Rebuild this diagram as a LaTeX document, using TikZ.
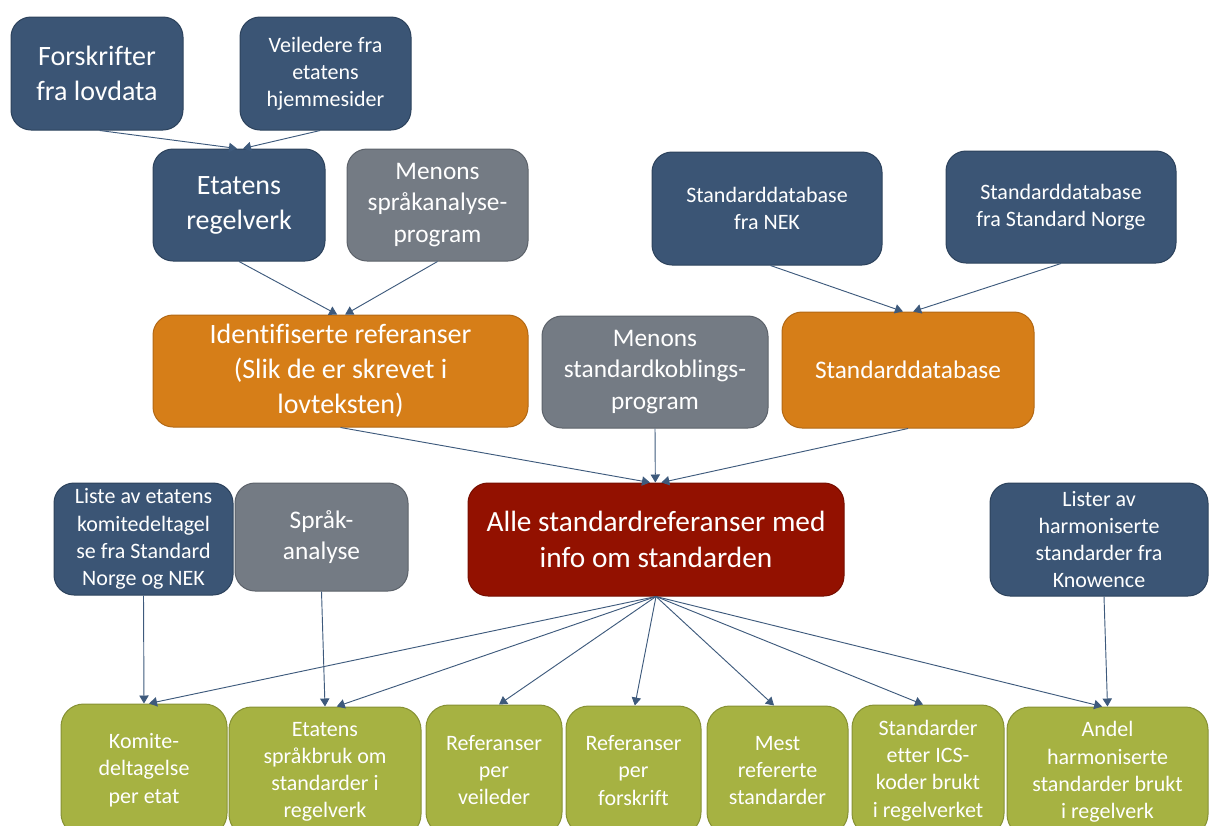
\documentclass[tikz,border=0pt]{standalone}
\usepackage{fontspec}
\setmainfont{Carlito}[Ligatures={NoCommon,NoRequired,NoContextual}]
\usetikzlibrary{arrows.meta}
\definecolor{cblue}{RGB}{59,85,117}
\definecolor{cblueb}{RGB}{44,66,92}
\definecolor{cgray}{RGB}{116,123,132}
\definecolor{cgrayb}{RGB}{92,98,106}
\definecolor{corange}{RGB}{214,126,24}
\definecolor{corangeb}{RGB}{178,104,20}
\definecolor{cred}{RGB}{147,17,0}
\definecolor{credb}{RGB}{118,14,0}
\definecolor{cgreen}{RGB}{166,178,66}
\definecolor{cgreenb}{RGB}{134,145,52}
\definecolor{carrow}{RGB}{62,90,124}
\newcommand\mkbox[7]{\node[#6, minimum width={(#4-#2)*0.75pt}, minimum height={(#5-#3)*0.75pt}] (#1) at ({(#2+#4)/2},{(#3+#5)/2}) {#7};}
\tikzset{
  boxbase/.style={rounded corners=15pt, line width=0.75pt, text=white, align=center, inner sep=0pt},
  bluebox/.style={boxbase, fill=cblue, draw=cblueb},
  graybox/.style={boxbase, fill=cgray, draw=cgrayb},
  orangebox/.style={boxbase, fill=corange, draw=corangeb},
  redbox/.style={boxbase, fill=cred, draw=credb},
  greenbox/.style={boxbase, rounded corners=17pt, fill=cgreen, draw=cgreenb},
  fbig/.style={font=\fontsize{21}{26.3}\selectfont},
  fhuge/.style={font=\fontsize{22}{27}\selectfont},
  fmid/.style={font=\fontsize{19}{23.3}\selectfont},
  fsmall/.style={font=\fontsize{16.5}{20.4}\selectfont},
  conn/.style={draw=carrow, line width=0.7pt, -{Triangle[width=7pt,length=6pt]}}
}
\begin{document}
\begin{tikzpicture}[x=0.75pt,y=-0.75pt]
\useasboundingbox (0,0) rectangle (1209,825);
\clip (0,0) rectangle (1209,825);
% top row
\mkbox{forsk}{11}{17}{183}{130}{bluebox,fbig}{Forskrif{}ter\\fra lovdata}
\mkbox{veil}{240}{17}{411}{130}{bluebox,fsmall}{Veiledere fra\\etatens\\hjemmesider}
\mkbox{etreg}{153}{149}{325}{261}{bluebox,fbig}{Etatens\\regelverk}
\mkbox{mspr}{347}{149}{528}{261}{graybox,fmid}{Menons\\språkanalyse-\\program}
\mkbox{nek}{652}{152}{882}{265}{bluebox,fsmall}{Standarddatabase\\fra NEK}
\mkbox{norge}{946}{151}{1176}{263}{bluebox,fsmall}{Standarddatabase\\fra Standard Norge}
% second row
\mkbox{ident}{153}{315}{528}{427}{orangebox,fbig}{Identif{}iserte referanser\\(Slik de er skrevet i\\lovteksten)}
\mkbox{mkob}{542}{316}{768}{428}{graybox,fmid}{Menons\\standardkoblings-\\program}
\mkbox{sdb}{782}{312}{1034}{428}{orangebox,fmid}{Standarddatabase}
% third row
\mkbox{alle}{468}{483}{844}{596}{redbox,fhuge}{Alle standardreferanser med\\info om standarden}
\mkbox{liste}{54}{483}{233}{595}{bluebox,fsmall}{Liste av etatens\\komitedeltagel\\se fra Standard\\Norge og NEK}
\mkbox{sprak}{235}{483}{408}{591}{graybox,fmid}{Språk-\\analyse}
\mkbox{lister}{990}{483}{1208}{596}{bluebox,fsmall}{Lister av\\harmoniserte\\standarder fra\\Knowence}
% bottom row
\mkbox{komite}{61}{704}{227}{836}{greenbox,fsmall}{Komite-\\deltagelse\\per etat}
\mkbox{sprbruk}{229}{707}{421}{837}{greenbox,fsmall}{Etatens\\språkbruk om\\standarder i\\regelverk}
\mkbox{refveil}{426}{705}{562}{835}{greenbox,fsmall}{Referanser\\per\\veileder}
\mkbox{refforsk}{566}{706}{701}{835}{greenbox,fsmall}{Referanser\\per\\forskrif{}t}
\mkbox{mest}{707}{706}{848}{835}{greenbox,fsmall}{Mest\\refererte\\standarder}
\mkbox{ics}{852}{705}{1004}{836}{greenbox,fsmall}{Standarder\\et{}ter ICS-\\koder brukt\\i regelverket}
\mkbox{andel}{1007}{707}{1208}{837}{greenbox,fsmall}{Andel\\harmoniserte\\standarder brukt\\i regelverk}
% connectors
\draw[conn] ([xshift=2pt]forsk.south) -- ([xshift=-1.5pt]etreg.north);
\draw[conn] ([xshift=-4pt]veil.south) -- ([xshift=3pt]etreg.north);
\draw[conn] (etreg.south) -- ([xshift=-2.5pt]ident.north);
\draw[conn] (mspr.south) -- ([xshift=3.5pt]ident.north);
\draw[conn] ([xshift=2.6pt]nek.south) -- ([xshift=-3.8pt]sdb.north);
\draw[conn] (norge.south) -- ([xshift=3.9pt]sdb.north);
\draw[conn] (ident.south) -- ([xshift=-4.5pt]alle.north);
\draw[conn] (mkob.south) -- ([xshift=-0.5pt]alle.north);
\draw[conn] (sdb.south) -- ([xshift=4pt]alle.north);
\draw[conn] (liste.south) -- (komite.north);
\draw[conn] (sprak.south) -- (sprbruk.north);
\draw[conn] ([xshift=3.75pt]lister.south) -- (andel.north);
\draw[conn] (alle.south) -- ([xshift=3.75pt]komite.north);
\draw[conn] (alle.south) -- ([xshift=8.8pt]sprbruk.north);
\draw[conn] (alle.south) -- ([xshift=3.75pt]refveil.north);
\draw[conn] (alle.south) -- ([xshift=1pt]refforsk.north);
\draw[conn] (alle.south) -- ([xshift=-2.6pt]mest.north);
\draw[conn] (alle.south) -- ([xshift=-3.75pt]ics.north);
\draw[conn] (alle.south) -- ([xshift=-4pt]andel.north);
\end{tikzpicture}
\end{document}
